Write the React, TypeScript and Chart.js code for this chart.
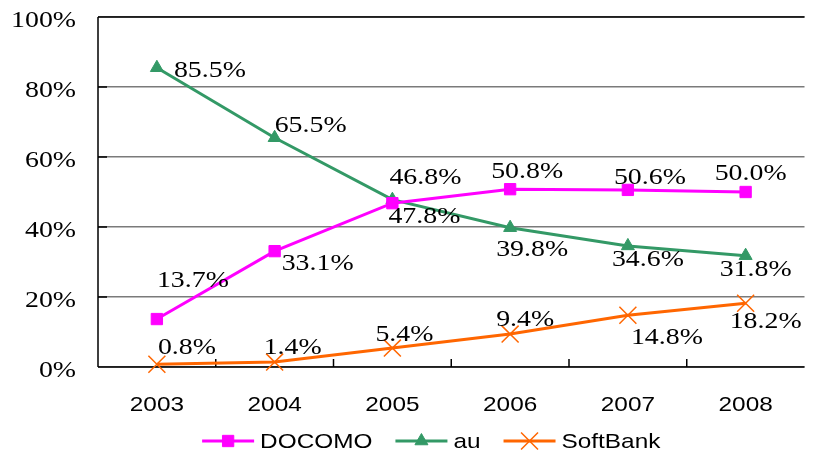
import React, { useEffect, useRef } from "react";
import { Chart, registerables } from "chart.js";

Chart.register(...registerables);

const categories = ["2003", "2004", "2005", "2006", "2007", "2008"];
const docomo = [13.7, 33.1, 46.8, 50.8, 50.6, 50.0];
const au = [85.5, 65.5, 47.8, 39.8, 34.6, 31.8];
const softbank = [0.8, 1.4, 5.4, 9.4, 14.8, 18.2];
const seriesNames = ["DOCOMO", "au", "SoftBank"];

// label placement relative to each point (style only)
const docomoLabelOffsets = [[36, -40], [43, 11], [33, -27], [17, -19], [22, -14], [5, -20]];
const auLabelOffsets = [[53, 1], [36, -14], [32, 15], [22, 20], [20, 12], [10, 12]];
const softbankLabelOffsets = [[30, -18], [18, -16], [12, -15], [15, -16], [39, 21], [20, 17]];

const COLORS = ["#FF00FF", "#339966", "#FF6600"];
const SX = 1.16;
const SERIF = '"Liberation Serif"';
const SANS = '"Liberation Sans"';

function drawText(ctx: CanvasRenderingContext2D, text: string, x: number, y: number, font: string, align: CanvasTextAlign) {
  ctx.save();
  ctx.font = font;
  ctx.textAlign = align;
  ctx.textBaseline = "alphabetic";
  ctx.fillStyle = "#000";
  ctx.translate(x, y);
  ctx.scale(SX, 1);
  ctx.fillText(text, 0, 0);
  ctx.restore();
}

function textWidth(ctx: CanvasRenderingContext2D, text: string, font: string) {
  ctx.save();
  ctx.font = font;
  const w = ctx.measureText(text).width * SX;
  ctx.restore();
  return w;
}

function drawMarker(ctx: CanvasRenderingContext2D, style: string, r: number, x: number, y: number, color: string, bw: number) {
  ctx.save();
  ctx.fillStyle = color;
  ctx.strokeStyle = color;
  ctx.lineWidth = bw;
  ctx.beginPath();
  if (style === "rect") {
    const s = Math.SQRT1_2 * r;
    ctx.rect(x - s, y - s, 2 * s, 2 * s);
    ctx.fill();
    ctx.stroke();
  } else if (style === "triangle") {
    let rad = 0;
    ctx.moveTo(x + Math.sin(rad) * r, y - Math.cos(rad) * r);
    rad += (2 * Math.PI) / 3;
    ctx.lineTo(x + Math.sin(rad) * r, y - Math.cos(rad) * r);
    rad += (2 * Math.PI) / 3;
    ctx.lineTo(x + Math.sin(rad) * r, y - Math.cos(rad) * r);
    ctx.closePath();
    ctx.fill();
    ctx.stroke();
  } else {
    const d = Math.SQRT1_2 * r;
    ctx.moveTo(x - d, y - d);
    ctx.lineTo(x + d, y + d);
    ctx.moveTo(x + d, y - d);
    ctx.lineTo(x - d, y + d);
    ctx.stroke();
  }
  ctx.restore();
}

const framePlugin = {
  id: "framePlugin",
  beforeDatasetsDraw(chart: any) {
    const ctx = chart.ctx as CanvasRenderingContext2D;
    const { left, right, top, bottom } = chart.chartArea;
    const xs = chart.scales.x;
    const ys = chart.scales.y;
    ctx.save();
    ctx.strokeStyle = "#000";
    ctx.lineWidth = 1.5;
    ctx.beginPath();
    ctx.moveTo(left, top);
    ctx.lineTo(right, top);
    ctx.moveTo(left, top);
    ctx.lineTo(left, bottom);
    ctx.moveTo(left, bottom);
    ctx.lineTo(right, bottom);
    ys.ticks.forEach((t: any) => {
      const py = ys.getPixelForValue(t.value);
      ctx.moveTo(left, py);
      ctx.lineTo(left + 9, py);
    });
    const n = categories.length;
    const step = xs.getPixelForValue(1) - xs.getPixelForValue(0);
    for (let i = 1; i < n; i++) {
      const px = xs.getPixelForValue(i) - step / 2;
      ctx.moveTo(px, bottom);
      ctx.lineTo(px, bottom - 8);
    }
    ctx.stroke();
    ctx.restore();

    ys.ticks.forEach((t: any) => {
      const py = ys.getPixelForValue(t.value);
      drawText(ctx, t.value + "%", left - 22, py + 10, `24px ${SERIF}`, "right");
    });
    categories.forEach((c, i) => {
      drawText(ctx, c, xs.getPixelForValue(i), bottom + 44, `21px ${SANS}`, "center");
    });
  },
  afterDraw(chart: any) {
    const ctx = chart.ctx as CanvasRenderingContext2D;
    const offsets = [docomoLabelOffsets, auLabelOffsets, softbankLabelOffsets];
    chart.data.datasets.forEach((ds: any, di: number) => {
      const meta = chart.getDatasetMeta(di);
      meta.data.forEach((pt: any, i: number) => {
        const [dx, dy] = offsets[di][i];
        const v = ds.data[i] as number;
        drawText(ctx, v.toFixed(1) + "%", pt.x + dx, pt.y + dy + 8, `24px ${SERIF}`, "center");
      });
    });

    const font = `21px ${SANS}`;
    const sample = 52;
    const gapText = 6;
    const gapItem = 23;
    const widths = seriesNames.map((n) => textWidth(ctx, n, font));
    const total = widths.reduce((a, b) => a + b, 0) + seriesNames.length * (sample + gapText) + gapItem * (seriesNames.length - 1);
    const { left, right } = chart.chartArea;
    let x = (left + right) / 2 - 20 - total / 2;
    const ly = chart.chartArea.bottom + 74;
    chart.data.datasets.forEach((ds: any, di: number) => {
      ctx.save();
      ctx.strokeStyle = ds.borderColor;
      ctx.lineWidth = 3;
      ctx.beginPath();
      ctx.moveTo(x, ly);
      ctx.lineTo(x + sample, ly);
      ctx.stroke();
      ctx.restore();
      drawMarker(ctx, ds.pointStyle, ds.pointRadius, x + sample / 2, ly, ds.pointBackgroundColor, ds.pointBorderWidth);
      drawText(ctx, seriesNames[di], x + sample + gapText, ly + 7, font, "left");
      x += sample + gapText + widths[di] + gapItem;
    });
  },
};

export default function App() {
  const ref = useRef<HTMLCanvasElement>(null);
  useEffect(() => {
    if (!ref.current) return;
    const mk = (i: number, data: number[], style: string, r: number, bw: number) => ({
      label: seriesNames[i],
      data,
      borderColor: COLORS[i],
      backgroundColor: COLORS[i],
      pointBackgroundColor: COLORS[i],
      pointBorderColor: COLORS[i],
      pointStyle: style,
      pointRadius: r,
      pointBorderWidth: bw,
      borderWidth: 3,
      tension: 0,
      clip: false as any,
    });
    const chart = new Chart(ref.current, {
      type: "line",
      data: {
        labels: categories,
        datasets: [
          mk(0, docomo, "rect", 8, 1),
          mk(1, au, "triangle", 7.5, 1),
          mk(2, softbank, "crossRot", 12, 1.5),
        ] as any,
      },
      options: {
        responsive: false,
        animation: false,
        layout: { padding: { left: 98, top: 17, right: 0, bottom: 86 } },
        plugins: { legend: { display: false }, tooltip: { enabled: false } },
        scales: {
          x: {
            offset: true,
            grid: { display: false },
            ticks: { display: false },
            border: { display: false },
            afterFit: (s: any) => { s.height = 0; },
          },
          y: {
            min: 0,
            max: 100,
            ticks: { display: false, stepSize: 20 },
            grid: { color: "#7a7a7a", lineWidth: 1.5, drawTicks: false },
            border: { display: false },
            afterFit: (s: any) => { s.width = 0; },
          },
        },
      },
      plugins: [framePlugin],
    });
    return () => chart.destroy();
  }, []);
  return (
    <div style={{ position: "fixed", left: 0, top: 0, width: 818, height: 453, background: "#fff" }}>
      <canvas ref={ref} width={818} height={453} style={{ width: 818, height: 453, display: "block" }} />
    </div>
  );
}
